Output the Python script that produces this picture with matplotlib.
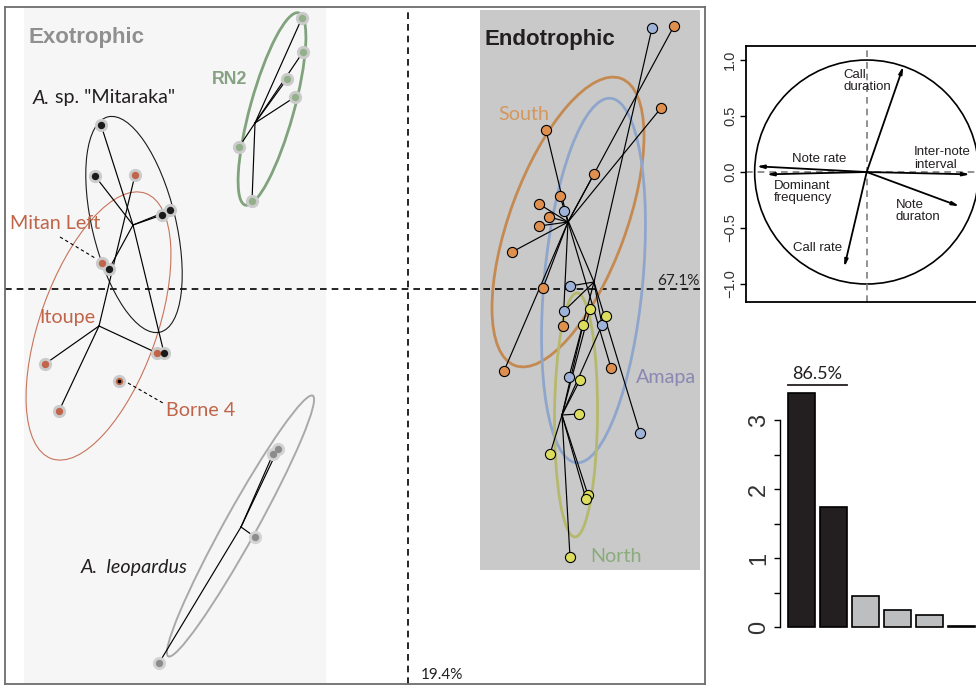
import matplotlib
matplotlib.use("Agg")
from matplotlib import pyplot as plt
from matplotlib.patches import Ellipse, Rectangle, Circle

# ---- PCA scores (PC1, PC2) ----
# exotrophic
rn2_x = [-2.12, -2.10, -2.42, -2.26, -3.38, -3.12]
rn2_y = [5.42, 4.74, 4.20, 3.84, 2.84, 1.76]
rn2_hub = (-3.06, 3.32)
rn2_ell = (-2.72, 3.60, 3.99, 0.87, 74.5)

mit_x = [-6.14, -6.26, -4.76, -4.92, -5.98, -4.88]
mit_y = [3.28, 2.26, 1.58, 1.48, 0.40, -1.28]
mit_hub = (-5.50, 1.28)
mit_ell = (-5.48, 1.29, 4.43, 1.67, 103.6)

ito_x = [-5.46, -5.02, -7.26, -6.98]
ito_y = [2.28, -1.28, -1.50, -2.44]
ito_hub = (-6.18, -0.74)
ito_ell = (-6.19, -0.74, 5.63, 2.34, 70.5)
mitan_left = (-6.12, 0.52)
borne4 = (-5.78, -1.84)

leo_x = [-2.70, -2.60, -3.06, -4.98]
leo_y = [-3.30, -3.20, -4.96, -7.48]
leo_hub = (-3.34, -4.76)
leo_ell = (-3.35, -4.74, 5.96, 0.64, 61.0)

# endotrophic
south_x = [5.32, 5.06, 2.76, 3.72, 3.04, 2.62, 2.82, 2.62, 2.08, 2.70, 3.10, 1.92, 4.06]
south_y = [5.26, 3.62, 3.18, 2.30, 1.86, 1.70, 1.44, 1.26, 0.74, 0.02, -0.74, -1.64, -1.58]
south_hub = (3.20, 1.34)
south_ell = (3.20, 1.34, 6.12, 2.32, 69.7)

amapa_x = [4.88, 3.12, 3.24, 3.12, 3.88, 3.22, 4.64]
amapa_y = [5.22, 1.56, 0.06, -0.44, -0.72, -1.76, -2.88]
amapa_hub = (3.72, 0.14)
amapa_ell = (3.71, 0.17, 7.32, 1.97, 84.6)

north_x = [3.64, 3.96, 3.50, 3.44, 3.42, 2.84, 3.60, 3.56, 3.24]
north_y = [-0.40, -0.54, -0.72, -1.82, -2.50, -3.30, -4.12, -4.20, -5.36]
north_hub = (3.08, -2.52)
north_ell = (3.36, -2.52, 4.88, 0.86, 89.5)

# ---- correlation circle ----
var_names = ["Call\nduration", "Note rate", "Dominant\nfrequency",
             "Inter-note\ninterval", "Note\nduraton", "Call rate"]
var_x = [0.327, -0.982, -0.893, 0.922, 0.827, -0.200]
var_y = [0.944, 0.051, -0.021, -0.021, -0.306, -0.848]
lab_x = [-0.21, -0.665, -0.83, 0.42, 0.26, -0.66]
lab_y = [0.815, 0.12, -0.18, 0.12, -0.35, -0.68]

# ---- eigenvalues ----
eig = [3.39, 1.75, 0.45, 0.25, 0.18, 0.02]

SANS = ["Lato", "DejaVu Sans"]
HELV = ["Liberation Sans", "DejaVu Sans"]
INK = "#231f20"
LAB = 14.2


def draw_group(ax, xs, ys, hub, ell, dot, ecol, elw, halo=None):
    for x, y in zip(xs, ys):
        ax.plot([hub[0], x], [hub[1], y], color="black", lw=0.85, zorder=3)
    cx, cy, w, h, ang = ell
    ax.add_patch(Ellipse((cx, cy), w, h, angle=ang, fill=False,
                         ec=ecol, lw=elw, zorder=2))
    if halo:
        ax.plot(xs, ys, "o", ms=9.5, color=halo, mec="none", zorder=4)
        ax.plot(xs, ys, "o", ms=5.3, color=dot, mec="none", zorder=5)
    else:
        ax.plot(xs, ys, "o", ms=7.3, mfc=dot, mec="black", mew=0.8, zorder=5)


fig = plt.figure(figsize=(9.76, 6.85), dpi=100)

# ---------------- main score plot ----------------
ax = fig.add_axes([5 / 976, 1 / 685, 700 / 976, 677 / 685])
ax.set_xlim(-8.06, 5.94)
ax.set_ylim(-7.90, 5.64)
ax.set_xticks([])
ax.set_yticks([])
for s in ax.spines.values():
    s.set_color("#6d6d6d")
    s.set_linewidth(1.3)

ax.add_patch(Rectangle((-7.68, -8.0), 6.04, 13.62, color="#f6f6f6", lw=0, zorder=0))
ax.add_patch(Rectangle((1.44, -5.62), 4.40, 11.20, color="#c9c9c9", lw=0, zorder=0))

ax.axhline(0, color="black", ls=(0, (4, 3)), lw=1.2, zorder=1)
ax.axvline(0, color="black", ls=(0, (4, 3)), lw=1.2, zorder=1)

draw_group(ax, rn2_x, rn2_y, rn2_hub, rn2_ell, "#93b08a", "#80a27c", 2.0, halo="#cbcbcb")
draw_group(ax, ito_x, ito_y, ito_hub, ito_ell, "#c0654a", "#c8735a", 0.8, halo="#cbcbcb")
draw_group(ax, mit_x, mit_y, mit_hub, mit_ell, "#1a1a1a", "#1a1a1a", 0.8, halo="#cbcbcb")
draw_group(ax, leo_x, leo_y, leo_hub, leo_ell, "#8c8c8c", "#a9a9a9", 1.4, halo="#d3d3d3")
for px, py in (mitan_left, borne4):
    ax.plot(px, py, "o", ms=9.5, color="#cbcbcb", mec="none", zorder=4)
    ax.plot(px, py, "o", ms=5.3, color="#c0654a", mec="none", zorder=5)
ax.plot(*borne4, "o", ms=1.6, color="black", zorder=6)
ax.plot([-6.96, -6.26], [1.04, 0.62], color="black", ls=(0, (3, 2.5)), lw=0.8, zorder=3)
ax.plot([-5.60, -4.90], [-1.88, -2.28], color="black", ls=(0, (3, 2.5)), lw=0.8, zorder=3)

draw_group(ax, south_x, south_y, south_hub, south_ell, "#e0904e", "#c48a52", 2.0)
draw_group(ax, amapa_x, amapa_y, amapa_hub, amapa_ell, "#9fb3d9", "#8fa6cc", 2.0)
draw_group(ax, north_x, north_y, north_hub, north_ell, "#dcdc5e", "#b6b96c", 2.0)

ax.text(-7.60, 5.04, "Exotrophic", family=HELV, weight="bold", fontsize=16,
        color="#8f8f8f", va="center")
ax.text(1.54, 4.98, "Endotrophic", family=HELV, weight="bold", fontsize=16,
        color=INK, va="center")
ax.text(-3.92, 4.18, "RN2", family=HELV, weight="bold", fontsize=12.8,
        color="#86a283", va="center")
t = ax.text(-7.50, 3.82, "A.", family=SANS, style="italic", fontsize=LAB,
            color=INK, va="center")
ax.annotate(' sp. "Mitaraka"', xy=(1, 0), xycoords=t, va="bottom",
            family=SANS, fontsize=LAB, color=INK)
ax.text(-7.96, 1.30, "Mitan Left", family=SANS, fontsize=LAB, color="#c0654a", va="center")
ax.text(-7.38, -0.58, "Itoupe", family=SANS, fontsize=LAB, color="#c0654a", va="center")
ax.text(-4.84, -2.44, "Borne 4", family=SANS, fontsize=LAB, color="#c0654a", va="center")
ax.text(-6.54, -5.58, "A.  leopardus", family=SANS, style="italic", fontsize=LAB,
        color=INK, va="center")
ax.text(1.80, 3.50, "South", family=SANS, fontsize=LAB, color="#d4975c", va="center")
ax.text(4.56, -1.78, "Amapa", family=SANS, fontsize=LAB, color="#8a87b3", va="center")
ax.text(3.64, -5.34, "North", family=SANS, fontsize=LAB, color="#8aac7c", va="center")
ax.text(4.98, 0.16, "67.1%", family=SANS, fontsize=11, color=INK, va="center")
ax.text(0.26, -7.72, "19.4%", family=SANS, fontsize=11, color=INK, va="center")

# ---------------- correlation circle ----------------
ax2 = fig.add_axes([745.7 / 976, 1 - 301.7 / 685, 242 / 976, 256 / 685])
ax2.set_xlim(-1.08, 1.08)
ax2.set_ylim(-1.158, 1.128)
ax2.add_patch(Circle((0, 0), 1, fill=False, lw=1.2, ec="black"))
ax2.axhline(0, color="#7f7f7f", ls=(0, (4, 3)), lw=1.2)
ax2.axvline(0, color="#7f7f7f", ls=(0, (4, 3)), lw=1.2)
for vx, vy in zip(var_x, var_y):
    ax2.annotate("", xy=(vx, vy), xytext=(0, 0),
                 arrowprops=dict(arrowstyle="-|>,head_length=0.4,head_width=0.1",
                                 lw=1.3, color="black", shrinkA=0, shrinkB=0))
for name, lx, ly in zip(var_names, lab_x, lab_y):
    ax2.text(lx, ly, name, family=HELV, fontsize=9.5, color=INK,
             ha="left", va="center", linespacing=1.05)
ax2.set_xticks([])
ax2.set_yticks([-1, -0.5, 0, 0.5, 1])
ax2.set_yticklabels(["\u22121.0", "\u22120.5", "0.0", "0.5", "1.0"],
                    rotation=90, va="center", family=HELV, fontsize=10.5, color="#333333")
ax2.tick_params(axis="y", length=4, width=1, pad=2)
for s in ax2.spines.values():
    s.set_linewidth(1.3)

# ---------------- eigenvalue bar plot ----------------
ax3 = fig.add_axes([780 / 976, 55 / 685, 196 / 976, 240 / 685])
pos = [0.2 + 1.2 * i for i in range(len(eig))]
cols = ["#231f20" if i < 2 else "#bcbec0" for i in range(len(eig))]
ax3.bar(pos, eig, width=1, align="edge", color=cols, edgecolor="black", lw=1.2)
ax3.set_xlim(-0.09, 7.235)
ax3.set_ylim(-0.039, 3.44)
for side in ("top", "right", "bottom"):
    ax3.spines[side].set_visible(False)
ax3.spines["left"].set_bounds(0, 3)
ax3.spines["left"].set_linewidth(1)
ax3.set_xticks([])
ax3.set_yticks([0, 1, 2, 3])
ax3.set_yticks([0.5, 1.5, 2.5], minor=True)
ax3.set_yticklabels(["0", "1", "2", "3"], rotation=90, va="center",
                    family=HELV, fontsize=17, color="#333333")
ax3.tick_params(axis="y", which="both", length=4, width=1, pad=3)
ax3.plot([0.2, 2.4], [3.51, 3.51], color=INK, lw=1.3, clip_on=False)
ax3.text(1.3, 3.67, "86.5%", family=SANS, fontsize=13, color=INK,
         ha="center", va="center")

fig.savefig("out.png", dpi=100)
